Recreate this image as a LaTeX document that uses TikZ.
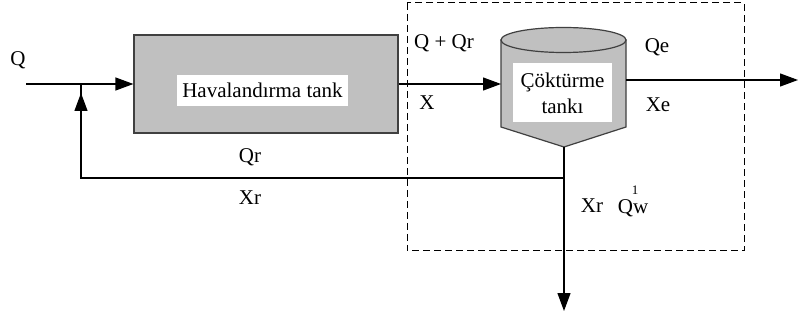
\documentclass[tikz,border=0pt]{standalone}
\usepackage{fontspec}
\setmainfont{Liberation Serif}
\usetikzlibrary{arrows.meta}
\definecolor{boxgray}{HTML}{C0C0C0}
\definecolor{edgegray}{HTML}{404040}
\tikzset{
  flow/.style={line width=1.2pt, black},
  arr/.style={flow, -{Triangle[length=18pt,width=13pt]}},
  lbl/.style={font=\fontsize{21}{24}\selectfont, inner sep=0pt},
  whitelbl/.style={fill=white, inner sep=0pt, font=\fontsize{21}{24}\selectfont}
}
\begin{document}
\begin{tikzpicture}[x=1pt,y=-1pt]
\useasboundingbox (0,0) rectangle (800,320);
\fill[white] (0,0) rectangle (800,320);
% dashed boundary
\draw[line width=1pt, dash pattern=on 7pt off 4pt] (407,3) rectangle (744,251);
% aeration tank
\node[draw=edgegray, line width=1.2pt, fill=boxgray, minimum width=264pt, minimum height=98pt, inner sep=0pt] (aer) at (266,84) {};
\node[whitelbl, minimum width=171pt, minimum height=31pt] (aerlbl) at (262.5,90.5) {Havalandırma tank};
% settling tank
\draw[edgegray, line width=1.2pt, fill=boxgray] (501,40) -- (501,127) -- (564,147) -- (626,127) -- (626,40) -- cycle;
\draw[edgegray, line width=1.2pt, fill=boxgray] (563.5,40) ellipse [x radius=62.5pt, y radius=12.5pt];
\node[fill=white, minimum width=99pt, minimum height=59pt, inner sep=0pt] (setbox) at (562.5,92.5) {};
\node[lbl, align=center] (setlbl) at (562.5,93) {Çöktürme\\[2pt]tankı};
\coordinate (cylL) at (501,84);
\coordinate (cylR) at (626,80);
\coordinate (cylB) at (564,147);
% connectors
\coordinate (in) at (26,84);
\coordinate (jn) at (81,84);
\coordinate (jnArr) at (81,93);
\coordinate (recArrBase) at (81,130);
\coordinate (split) at (564,178);
\coordinate (out) at (798,80);
\coordinate (waste) at (564,311);
\draw[arr] (in) -- (aer.west);
\draw[arr] (aer.east) -- (cylL);
\draw[arr] (cylR) -- (out);
\draw[arr] (cylB) -- (waste);
\draw[flow] (split) -| (jn);
\draw[arr] (recArrBase) -- (jnArr);
% labels
\node[lbl] (lQ) at (18,60) {Q};
\node[lbl] (lQQr) at (444,43) {Q + Qr};
\node[lbl] (lX) at (427,103) {X};
\node[lbl] (lQr) at (250,157) {Qr};
\node[lbl] (lXr) at (250,198) {Xr};
\node[lbl] (lQe) at (657,47) {Qe};
\node[lbl] (lXe) at (658,105) {Xe};
\node[lbl] (lXr2) at (592,206) {Xr};
\node[lbl] (lQw) at (633,208) {Qw};
\node[lbl, font=\fontsize{13}{15}\selectfont] (l1) at (635,190) {1};
\end{tikzpicture}
\end{document}
